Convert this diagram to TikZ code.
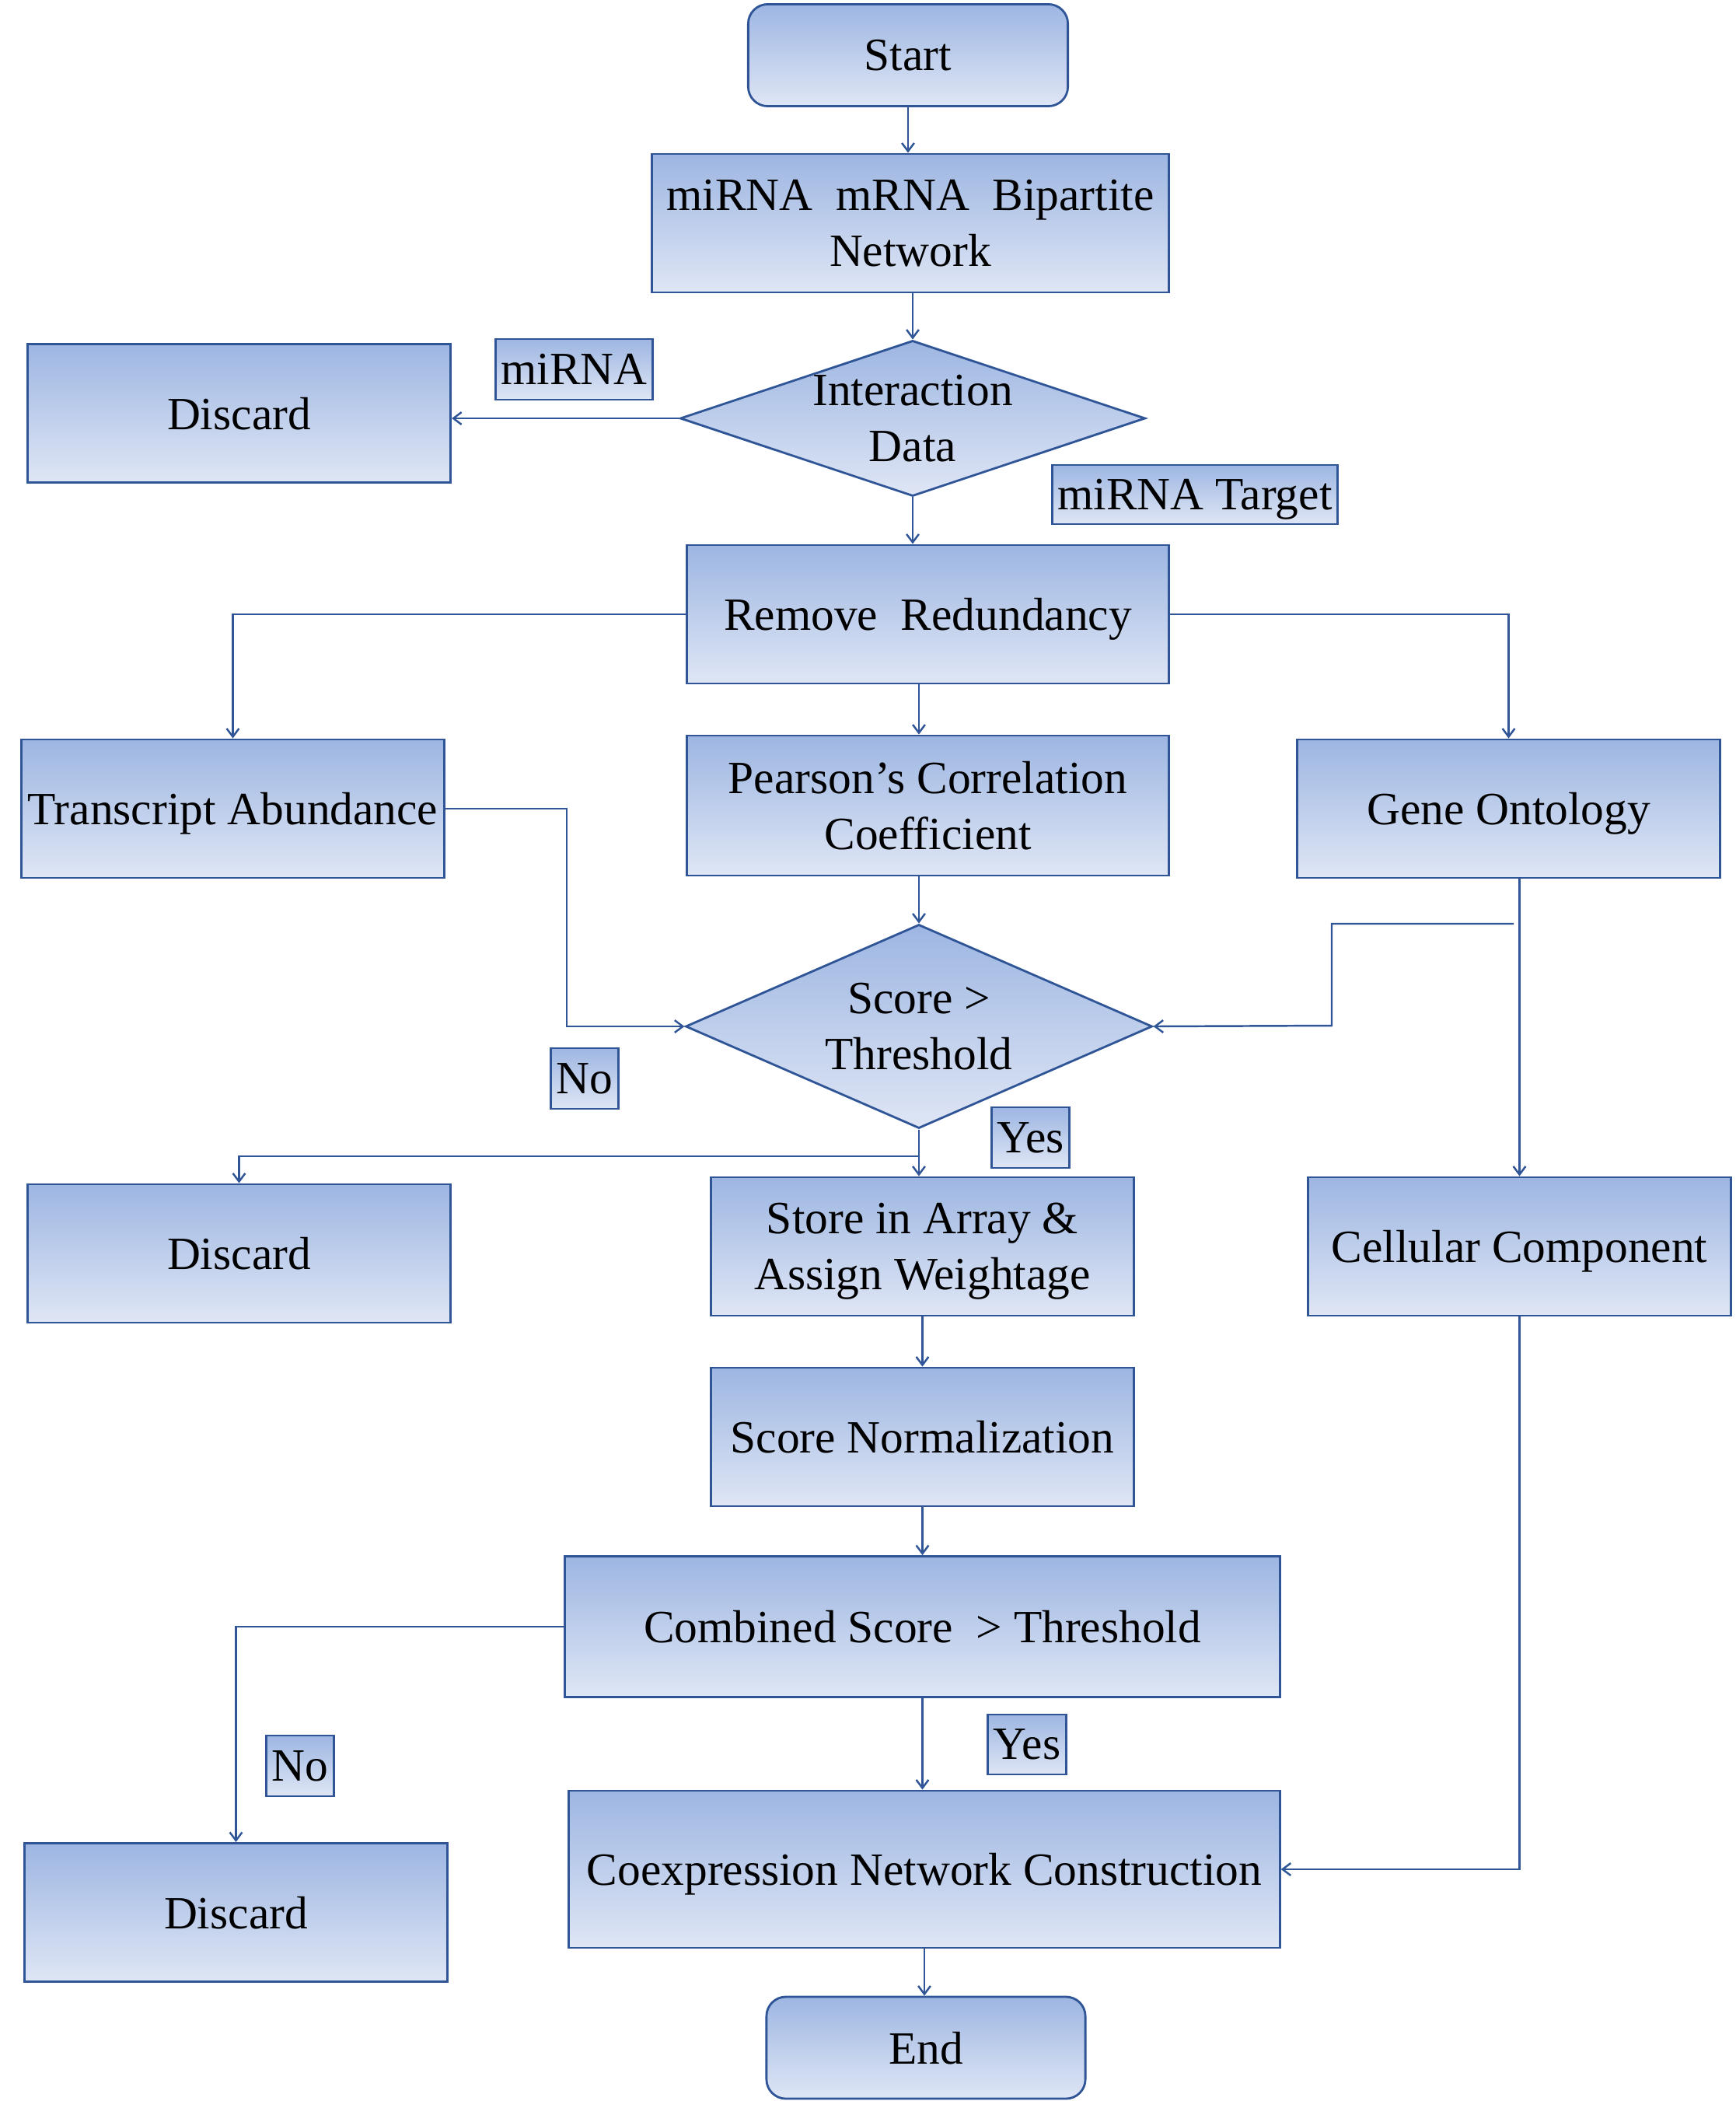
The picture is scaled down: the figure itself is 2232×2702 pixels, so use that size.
\documentclass[tikz,border=0pt]{standalone}
\usepackage{fontspec}
\setmainfont{Liberation Serif}
\usetikzlibrary{shapes.geometric,arrows.meta}

\definecolor{boxline}{RGB}{47,85,151}
\definecolor{boxtop}{RGB}{157,182,226}
\definecolor{boxbot}{RGB}{223,230,245}

\tikzset{
  shade box/.style={draw=boxline, line width=0.8pt, top color=boxtop, bottom color=boxbot,
    align=center, inner sep=0pt, text depth=0pt},
  arr/.style={draw=boxline, line width=0.7pt, -{Straight Barb[length=3pt,width=4.5pt]}}
}

\begin{document}
\begin{tikzpicture}[x=0.01cm, y=-0.01cm, font=\fontsize{16.9}{20.5}\selectfont]

      \useasboundingbox (0,0) rectangle (2232,2702);

      \begin{scope}[every node/.style={shade box, rectangle, minimum width=5.44cm, minimum height=1.78cm}]
        \node[rounded corners=0.25cm, minimum width=4.11cm, minimum height=1.31cm] (start) at (1168,71) {Start};
        \node[minimum width=6.64cm] (bip)     at (1171,287)    {miRNA~ mRNA~ Bipartite\\Network};
        \node[diamond, aspect=3, minimum width=5.98cm, minimum height=2.0cm] (inter) at (1174,538) {Interaction\\Data};
        \node (disc1)   at (307.5,531.5)  {Discard};
        \node[minimum width=6.19cm] (remove)  at (1193.5,790)   {Remove~ Redundancy};
        \node (trans)   at (299.5,1040)   {Transcript Abundance};
        \node[minimum width=6.19cm, minimum height=1.8cm] (pearson) at (1193.5,1036) {Pearson’s Correlation\\Coefficient};
        \node (gene)    at (1940.5,1040)  {Gene Ontology};
        \node[diamond, aspect=2.29, minimum width=6.0cm, minimum height=2.62cm] (score) at (1182,1320) {Score >\\Threshold};
        \node (disc2)   at (307.5,1612)   {Discard};
        \node (store)   at (1186.5,1603)  {Store in Array \&\\Assign Weightage};
        \node (cell)    at (1954.5,1603)  {Cellular Component};
        \node (norm)    at (1186.5,1848)  {Score Normalization};
        \node[minimum width=9.19cm, minimum height=1.81cm] (comb) at (1186.5,2092) {Combined Score~ > Threshold};
        \node (disc3)   at (303.5,2459.5) {Discard};
        \node[minimum width=9.14cm, minimum height=2.02cm] (coex) at (1189,2404) {Coexpression Network Construction};
        \node[rounded corners=0.25cm, minimum width=4.10cm, minimum height=1.31cm] (stop) at (1191,2633.5) {End};
      \end{scope}

      % branch labels
      \begin{scope}[every node/.style={shade box, rectangle, minimum height=0.78cm, inner xsep=2pt}]
        \node[minimum width=2.01cm] (lmirna)  at (738.5,475)  {miRNA};
        \node[minimum width=3.62cm, minimum height=0.76cm] (ltarget) at (1537,636) {miRNA Target};
        \node[minimum width=0.84cm] (lno1)    at (752,1387)   {No};
        \node[minimum width=0.99cm] (lyes1)   at (1325.5,1463) {Yes};
        \node[minimum width=0.85cm] (lno2)    at (386,2271)   {No};
        \node[minimum width=0.98cm, minimum height=0.77cm] (lyes2) at (1321,2243.5) {Yes};
      \end{scope}

      \coordinate (gobr) at (1947,1188);
      \coordinate (sbr)  at (1182,1487);

      \begin{scope}[every edge/.style={arr}]
        \path (start.south) edge (start.south |- bip.north);
        \path (inter.north |- bip.south) edge (inter.north);
        \path (inter.west) edge (inter.west -| disc1.east);
        \path (inter.south) edge (inter.south |- remove.north);
        \path (score.north |- remove.south) edge (score.north |- pearson.north);
        \path (score.north |- pearson.south) edge (score.north);
        \path (cell.north |- gene.south) edge (cell.north);
        \path (score.south) edge (score.south |- store.north);
        \path (store.south) edge (store.south |- norm.north);
        \path (norm.south) edge (norm.south |- comb.north);
        \path (comb.south) edge (comb.south |- coex.north);
        \path (coex.south) edge (coex.south |- stop.north);
      \end{scope}

      \draw[arr] (remove.west) -| (trans.north);
      \draw[arr] (remove.east) -| (gene.north);
      \draw[arr] (trans.east) -- ++(156,0) |- (score.west);
      \draw[arr] (gobr) -| ++(-234,131) -- (score.east);
      \draw[arr] (sbr) -| (disc2.north);
      \draw[arr] (comb.west) -| (disc3.north);
      \draw[arr] (cell.south) |- (coex.east);

    \end{tikzpicture}
\end{document}
